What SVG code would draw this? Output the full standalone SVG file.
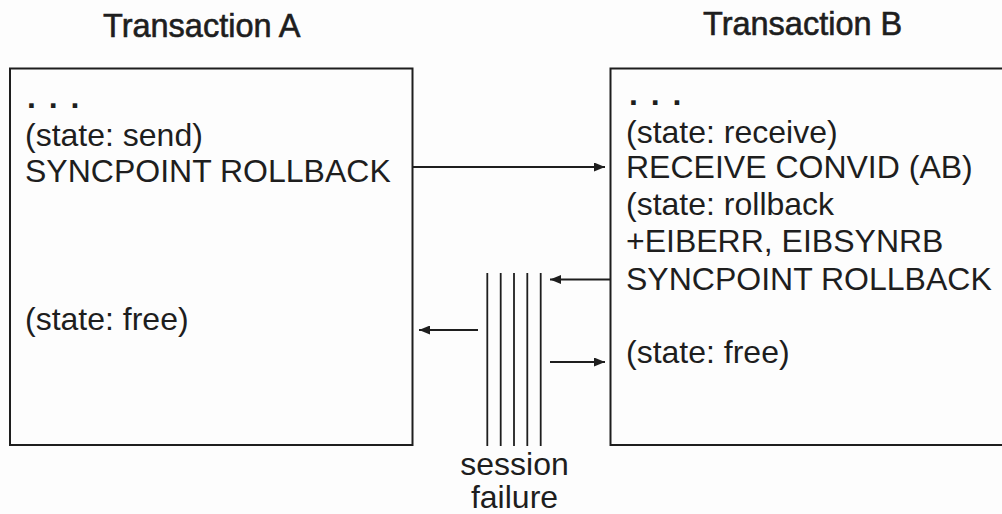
<svg xmlns="http://www.w3.org/2000/svg" width="1002" height="514" viewBox="0 0 1002 514">
<style>
  text { font-family: "Liberation Sans", Arial, sans-serif; font-size: 32px; fill: #1e1e1e; }
  .title { font-size: 32.5px; stroke: #1e1e1e; stroke-width: 0.6; }
  .dots { font-weight: bold; }
  .box { fill: none; stroke: #1e1e1e; stroke-width: 2; }
  .conn { stroke: #1e1e1e; stroke-width: 2; fill: none; }
  .sess { stroke: #1e1e1e; stroke-width: 1.8; }
</style>
<defs>
  <marker id="arr" viewBox="0 0 11 9" refX="11" refY="4.5" markerWidth="11" markerHeight="9" markerUnits="userSpaceOnUse" orient="auto">
    <path d="M0,0 L11,4.5 L0,9 Z" fill="#1e1e1e"/>
  </marker>
</defs>
<rect width="1002" height="514" fill="#fdfdfd"/>
<text class="title" x="103" y="37">Transaction A</text>
<text class="title" x="703" y="35">Transaction B</text>
<g id="transactionA">
  <rect class="box" x="10" y="68.5" width="402.5" height="376.5"/>
  <text class="dots" x="27" y="108" letter-spacing="2">. . .</text>
  <text x="25" y="145.5">(state: send)</text>
  <text x="25" y="181.7">SYNCPOINT ROLLBACK</text>
  <text x="25" y="330">(state: free)</text>
</g>
<g id="transactionB">
  <rect class="box" x="610.5" y="68.5" width="420" height="376.5"/>
  <text class="dots" x="629" y="105" letter-spacing="2">. . .</text>
  <text x="626" y="142.5">(state: receive)</text>
  <text x="626" y="178.3">RECEIVE CONVID (AB)</text>
  <text x="626" y="215">(state: rollback</text>
  <text x="626" y="251.7">+EIBERR, EIBSYNRB</text>
  <text x="626" y="290">SYNCPOINT ROLLBACK</text>
  <text x="626" y="363">(state: free)</text>
</g>
<g id="sessionFailure">
  <line class="sess" x1="487.3" y1="273" x2="487.3" y2="446"/>
  <line class="sess" x1="500.7" y1="273" x2="500.7" y2="446"/>
  <line class="sess" x1="514" y1="273" x2="514" y2="446"/>
  <line class="sess" x1="527.3" y1="273" x2="527.3" y2="446"/>
  <line class="sess" x1="540.7" y1="273" x2="540.7" y2="446"/>
  <text x="514.5" y="475" text-anchor="middle">session</text>
  <text x="514.5" y="508" text-anchor="middle">failure</text>
</g>
<g id="connectors">
  <line class="conn" x1="413" y1="167" x2="605" y2="167" marker-end="url(#arr)"/>
  <line class="conn" x1="610" y1="279.5" x2="550" y2="279.5" marker-end="url(#arr)"/>
  <line class="conn" x1="478" y1="330" x2="419" y2="330" marker-end="url(#arr)"/>
  <line class="conn" x1="550" y1="362" x2="605" y2="362" marker-end="url(#arr)"/>
</g>
</svg>
